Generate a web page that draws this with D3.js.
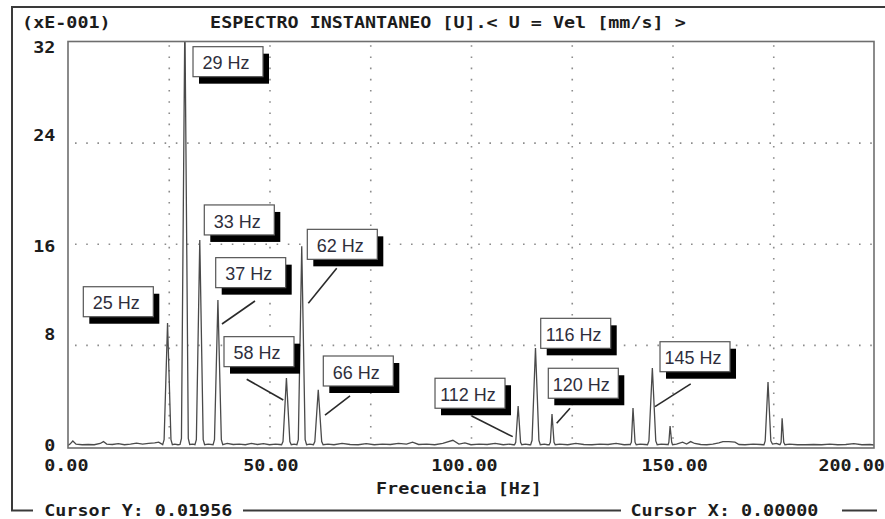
<!DOCTYPE html>
<html>
<head>
<meta charset="utf-8">
<script src="https://cdn.jsdelivr.net/npm/d3@7"></script>
<style>
  body { margin: 0; background: #fff; }
  svg { display: block; }
</style>
</head>
<body>
<svg id="chart" width="885" height="519"></svg>
<script>
// Velocity spectrum samples: frequency [Hz] and amplitude [x 1E-1 mm/s]
const freqHz = [
  0, 0.5, 1.2, 2, 3.5, 5, 6.5, 8, 8.8, 9.6, 11, 12.5, 14, 15.5, 17, 18.5, 20, 21.5, 22.5, 23.3,
  23.5, 23.85, 24.7, 25.55, 25.9, 26.5, 27.3,
  27.8, 28.15, 29.0, 29.85, 30.2, 31.0,
  31.5, 31.85, 32.7, 33.55, 33.9, 34.8,
  36.0, 36.35, 37.2, 38.05, 38.4,
  39.5, 41, 42.5, 44, 45.5, 47, 48.5, 50, 51.5, 52.5,
  53.0, 53.35, 54.2, 55.05, 55.4, 56.1,
  56.8, 57.15, 58.0, 58.85, 59.2, 60.0,
  60.9, 61.25, 62.1, 62.95, 63.3,
  64.5, 66, 68, 70, 72, 74, 76, 78, 80, 82, 84, 85.5, 87, 89, 91, 93, 95.5, 97, 98.5,
  100, 102, 104, 106, 108, 109.5, 110.5,
  110.8, 111.1, 111.7, 112.3, 112.6, 113.5, 114.5,
  114.8, 115.15, 116.0, 116.85, 117.2, 118.2, 119.0,
  119.4, 119.7, 120.1, 120.6, 120.9,
  122, 124, 126, 128, 130, 132, 134, 136, 138, 139.3,
  139.5, 139.8, 140.2, 140.7, 141.0, 142, 143.2,
  143.8, 144.15, 145.0, 145.85, 146.2, 147.2, 148.6,
  148.9, 149.1, 149.4, 149.8, 150.0,
  151, 152.5, 153.5, 154.5, 155.5, 157, 158.5, 160, 161.5, 162.5, 164, 165.5, 166.5, 168, 170, 171.8, 172.5,
  172.7, 173.0, 173.7, 174.4, 174.8, 175.8, 176.5,
  176.7, 176.95, 177.2, 177.6, 177.9,
  179, 181, 183, 185, 187, 189, 191, 193, 195, 197, 199, 200
];
const amplitude = [
  0.05, 0.15, 0.4, 0.15, 0.1, 0.12, 0.1, 0.2, 0.35, 0.15, 0.12, 0.18, 0.1, 0.15, 0.22, 0.15, 0.2, 0.25, 0.3, 0.15,
  0.1, 0.5, 9.73, 0.5, 0.1, 0.15, 0.1,
  0.12, 0.6, 34.0, 0.6, 0.12, 0.15,
  0.1, 0.5, 16.3, 0.5, 0.1, 0.15,
  0.1, 0.5, 11.55, 0.5, 0.1,
  0.2, 0.12, 0.15, 0.1, 0.2, 0.12, 0.18, 0.1, 0.15, 0.12,
  0.1, 0.35, 5.38, 0.35, 0.1, 0.15,
  0.1, 0.5, 15.8, 0.5, 0.1, 0.15,
  0.1, 0.35, 4.45, 0.35, 0.1,
  0.15, 0.1, 0.2, 0.12, 0.1, 0.18, 0.1, 0.15, 0.12, 0.2, 0.15, 0.3, 0.12, 0.15, 0.1, 0.2, 0.45, 0.15, 0.25,
  0.1, 0.15, 0.12, 0.2, 0.1, 0.15, 0.1,
  0.1, 0.3, 3.16, 0.3, 0.1, 0.15, 0.1,
  0.1, 0.45, 7.75, 0.45, 0.1, 0.15, 0.1,
  0.1, 0.3, 2.53, 0.3, 0.1,
  0.15, 0.1, 0.2, 0.12, 0.1, 0.15, 0.12, 0.2, 0.1, 0.12,
  0.1, 0.3, 3.0, 0.3, 0.1, 0.15, 0.12,
  0.1, 0.4, 6.17, 0.4, 0.1, 0.15, 0.12,
  0.1, 0.3, 1.58, 0.3, 0.1,
  0.15, 0.3, 0.15, 0.35, 0.2, 0.12, 0.1, 0.15, 0.25, 0.35, 0.35, 0.3, 0.12, 0.1, 0.15, 0.12, 0.1,
  0.1, 0.4, 5.06, 0.4, 0.15, 0.2, 0.12,
  0.12, 0.3, 2.2, 0.3, 0.1,
  0.15, 0.1, 0.1, 0.12, 0.1, 0.15, 0.1, 0.12, 0.18, 0.1, 0.12, 0.08
];

const xTicks = [0, 50, 100, 150, 200];
const yTicks = [0, 8, 16, 24, 32];
const gridX = [25, 50, 75, 100, 125, 150, 175];
const gridY = [8, 16, 24];

// Peak call-outs: box anchored at its top-left corner in data units,
// optional leader line from (f1,a1) to (f2,a2)
const calloutText = ["25 Hz", "29 Hz", "33 Hz", "37 Hz", "58 Hz", "62 Hz", "66 Hz", "112 Hz", "116 Hz", "120 Hz", "145 Hz"];
const calloutBoxF = [3.80, 31.02, 33.82, 36.65, 38.71, 59.38, 63.35, 91.07, 117.30, 119.18, 146.90];
const calloutBoxA = [12.60, 31.59, 19.07, 14.90, 8.65, 17.14, 7.12, 5.36, 10.10, 6.15, 8.25];
const leaderLines = [
  null, null, null,
  [46.40, 11.47, 38.21, 9.65],
  [44.34, 5.28, 53.42, 3.64],
  [66.68, 14.06, 59.63, 11.29],
  [69.98, 3.96, 63.77, 2.45],
  [100.17, 2.37, 110.35, 0.74],
  null,
  [124.57, 2.98, 121.26, 1.80],
  [154.52, 4.91, 145.66, 3.11]
];

const svg = d3.select("#chart");
const monoFont = "'DejaVu Sans Mono', 'Liberation Mono', monospace";
const cw = 11.06;            // character cell width of the screen font
const textColor = "#1c1c1c";

const x = d3.scaleLinear().domain([0, 200]).range([68, 874]);
const y = d3.scaleLinear().domain([0, 32]).range([446, 41.5]);
const plotTop = 41.5, plotBottom = 448;

// Screen-style text: every glyph occupies one fixed-width cell
function screenText(str, x0, baseline) {
  return svg.append("text")
    .attr("x", x0).attr("y", baseline)
    .attr("font-family", monoFont)
    .attr("font-weight", "bold")
    .attr("font-size", 15.5)
    .attr("fill", textColor)
    .attr("textLength", str.length * cw)
    .attr("lengthAdjust", "spacingAndGlyphs")
    .style("white-space", "pre")
    .text(str);
}

// Outer window frame
const frameColor = "#3a3a3a";
svg.append("line").attr("x1", 12).attr("x2", 885).attr("y1", 7).attr("y2", 7)
  .attr("stroke", frameColor).attr("stroke-width", 2);
svg.append("line").attr("x1", 12).attr("x2", 12).attr("y1", 6).attr("y2", 511)
  .attr("stroke", frameColor).attr("stroke-width", 2);
[[11, 33], [243, 621], [842, 877]].forEach(([a, b]) => {
  svg.append("line").attr("x1", a).attr("x2", b).attr("y1", 510.5).attr("y2", 510.5)
    .attr("stroke", frameColor).attr("stroke-width", 2);
});

// Header
screenText("(xE-001)", 2 * cw, 28);
screenText("ESPECTRO INSTANTANEO [U].< U = Vel [mm/s] >", 19 * cw, 28);

// Dotted grid drawn with axis generators
const gridColor = "#8c8c8c";
const gx = svg.append("g")
  .attr("transform", `translate(0,${plotBottom})`)
  .call(d3.axisBottom(x).tickValues(gridX).tickSize(-(plotBottom - plotTop)).tickFormat(""));
gx.select(".domain").remove();
gx.selectAll(".tick line")
  .attr("stroke", gridColor).attr("stroke-width", 1.6)
  .attr("stroke-dasharray", "1.6,9.6").attr("stroke-dashoffset", 2);

const gy = svg.append("g")
  .attr("transform", `translate(${x(0)},0)`)
  .call(d3.axisLeft(y).tickValues(gridY).tickSize(-(x(200) - x(0))).tickFormat(""));
gy.select(".domain").remove();
gy.selectAll(".tick line")
  .attr("stroke", gridColor).attr("stroke-width", 1.6)
  .attr("stroke-dasharray", "1.6,9.6").attr("stroke-dashoffset", -7);

// Spectrum trace
svg.append("clipPath").attr("id", "plotClip")
  .append("rect").attr("x", x(0)).attr("y", plotTop)
  .attr("width", x(200) - x(0)).attr("height", plotBottom - plotTop);

const spectrum = freqHz.map((f, i) => ({ f, a: amplitude[i] }));
svg.append("path")
  .datum(spectrum)
  .attr("clip-path", "url(#plotClip)")
  .attr("fill", "none")
  .attr("stroke", "#4a4a4a")
  .attr("stroke-width", 1.3)
  .attr("stroke-linejoin", "miter")
  .attr("d", d3.line().x(d => x(d.f)).y(d => y(d.a)));

// Plot frame
svg.append("rect")
  .attr("x", x(0)).attr("y", plotTop)
  .attr("width", x(200) - x(0)).attr("height", plotBottom - plotTop)
  .attr("fill", "none").attr("stroke", "#6e6e6e").attr("stroke-width", 1.6);

// Y tick labels, snapped to text rows, right-aligned on column 5
const rowH = 22.1, row0Base = 52.7, row0Center = 47.2;
yTicks.forEach(t => {
  const row = Math.round((y(t) - row0Center) / rowH);
  const s = String(t);
  screenText(s, (5 - s.length) * cw, row0Base + row * rowH);
});

// X tick labels, snapped to text columns
const fmtX = d3.format(".2f");
const maxCol = Math.floor(885 / cw);
xTicks.forEach(t => {
  const s = fmtX(t);
  let col = Math.floor((x(t) - s.length * cw / 2) / cw + 0.3);
  col = Math.min(col, maxCol - s.length);
  screenText(s, col * cw, 471);
});

screenText("Frecuencia [Hz]", 34 * cw, 494);
screenText("Cursor Y: 0.01956", 4 * cw, 516);
screenText("Cursor X: 0.00000", 57 * cw, 516);

// Leader lines
leaderLines.forEach(l => {
  if (!l) return;
  svg.append("line")
    .attr("x1", x(l[0])).attr("y1", y(l[1]))
    .attr("x2", x(l[2])).attr("y2", y(l[3]))
    .attr("stroke", "#2a2a2a").attr("stroke-width", 1.6);
});

// Call-out boxes with drop shadow
const boxW = 70, boxH = 30;
const callouts = svg.append("g").selectAll("g")
  .data(calloutText.map((t, i) => ({ t, f: calloutBoxF[i], a: calloutBoxA[i] })))
  .join("g")
  .attr("transform", d => `translate(${x(d.f)},${y(d.a)})`);
callouts.append("rect")
  .attr("x", 6).attr("y", 7).attr("width", boxW).attr("height", boxH)
  .attr("fill", "#000");
callouts.append("rect")
  .attr("x", 0).attr("y", 0).attr("width", boxW).attr("height", boxH)
  .attr("fill", "#fff").attr("stroke", "#555").attr("stroke-width", 1.2);
callouts.append("text")
  .attr("x", boxW / 2 - 2).attr("y", 22.6)
  .attr("text-anchor", "middle")
  .attr("font-family", "'Liberation Sans', Arial, sans-serif")
  .attr("font-size", 18)
  .attr("fill", "#2e2e3c")
  .text(d => d.t);
</script>
</body>
</html>
